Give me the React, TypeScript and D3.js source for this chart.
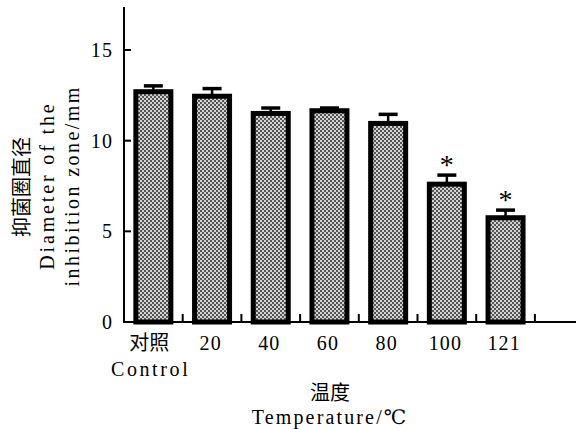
import React from "react";
import * as d3 from "d3";

const categories = ["对照", "20", "40", "60", "80", "100", "121"];
const subLabels = ["Control", "", "", "", "", "", ""];
const values = [12.7, 12.45, 11.5, 11.65, 10.95, 7.6, 5.75];
const errors = [0.32, 0.42, 0.3, 0.15, 0.5, 0.5, 0.42];
const significant = [false, false, false, false, false, true, true];
const yTicks = [0, 5, 10, 15];
const yTitle = ["抑菌圈直径", "Diameter of the", "inhibition zone/mm"];
const xTitle = ["温度", "Temperature/℃"];

const W = 586;
const H = 429;
const x0 = 124;
const bandW = 58.7;
const y0 = 322;
const yTop = 7;
const axisEnd = 576;
const charW = 11.1;

const serif = "'Liberation Serif', 'DejaVu Serif', serif";
const cjk = "'Noto Sans CJK SC', sans-serif";

function Latin(props: { x: number; y: number; text: string; anchor?: string; size?: number; dy?: string }) {
  const { x, y, text, anchor = "middle", size = 20, dy } = props;
  const len = [...text].reduce((s, ch) => s + (ch === "℃" ? 2 * charW : charW), 0);
  return (
    <text
      x={x}
      y={y}
      dy={dy}
      textAnchor={anchor}
      fontFamily={serif}
      fontSize={size}
      fill="#000"
      textLength={text.length > 1 ? len - 1 : undefined}
      lengthAdjust="spacing"
    >
      {text}
    </text>
  );
}

export default function App() {
  const x = d3
    .scaleBand<string>()
    .domain(categories)
    .range([x0, x0 + bandW * categories.length])
    .padding(0);
  const y = d3.scaleLinear().domain([0, 17.37]).range([y0, yTop]);

  const barW = 35;
  const capW = 19;

  return (
    <svg
      width={W}
      height={H}
      style={{ position: "absolute", left: 0, top: 0, background: "#fff" }}
    >
      <defs>
        <pattern id="chk" width={4} height={4} patternUnits="userSpaceOnUse">
          <rect width={4} height={4} fill="#555" />
          <rect x={0} y={0} width={2} height={2} fill="#d2d2d2" />
          <rect x={2} y={2} width={2} height={2} fill="#d2d2d2" />
        </pattern>
      </defs>

      {categories.map((c, i) => {
        const cx = (x(c) as number) + x.bandwidth() / 2;
        const top = y(values[i]);
        const capY = y(values[i] + errors[i]);
        return (
          <g key={c}>
            <line x1={cx} x2={cx} y1={top} y2={capY} stroke="#000" strokeWidth={2.5} />
            <line x1={cx - capW / 2} x2={cx + capW / 2} y1={capY} y2={capY} stroke="#000" strokeWidth={3.5} />
            <rect
              x={cx - barW / 2}
              y={top}
              width={barW}
              height={y0 - top}
              fill="url(#chk)"
              stroke="#000"
              strokeWidth={5}
            />
            {significant[i] && (
              <text x={cx} y={capY - 1} textAnchor="middle" fontFamily={serif} fontSize={28} fill="#000">
                *
              </text>
            )}
          </g>
        );
      })}

      <line x1={x0 - 1} x2={axisEnd} y1={y0} y2={y0} stroke="#000" strokeWidth={2} />
      {categories.map((c) => {
        const tx = (x(c) as number) + x.bandwidth();
        return <line key={"t" + c} x1={tx} x2={tx} y1={y0} y2={y0 - 8} stroke="#000" strokeWidth={2} />;
      })}
      {categories.map((c, i) => {
        const cx = (x(c) as number) + x.bandwidth() / 2;
        const isCjk = /[\u4e00-\u9fff]/.test(c);
        return (
          <g key={"l" + c}>
            {isCjk ? (
              <text x={cx - 4} y={350} textAnchor="middle" fontFamily={cjk} fontSize={20} fill="#000">
                {c}
              </text>
            ) : (
              <Latin x={cx - 2} y={350} text={c} />
            )}
            {subLabels[i] && <Latin x={cx - 4} y={376} text={subLabels[i]} />}
          </g>
        );
      })}

      <line x1={x0} x2={x0} y1={yTop} y2={y0 + 1} stroke="#000" strokeWidth={2} />
      {yTicks.map((t) => (
        <g key={"y" + t}>
          {t > 0 && <line x1={x0} x2={x0 + 7} y1={y(t)} y2={y(t)} stroke="#000" strokeWidth={2} />}
          <Latin x={112} y={y(t)} dy="0.35em" anchor="end" text={String(t)} />
        </g>
      ))}

      <g transform="translate(0,187) rotate(-90)">
        <text x={0} y={29} textAnchor="middle" fontFamily={cjk} fontSize={20} fill="#000">
          {yTitle[0]}
        </text>
        <Latin x={0} y={54} text={yTitle[1]} />
        <Latin x={0} y={79} text={yTitle[2]} />
      </g>

      <text x={330} y={400} textAnchor="middle" fontFamily={cjk} fontSize={20} fill="#000">
        {xTitle[0]}
      </text>
      <Latin x={329} y={424} text={xTitle[1]} />
    </svg>
  );
}
